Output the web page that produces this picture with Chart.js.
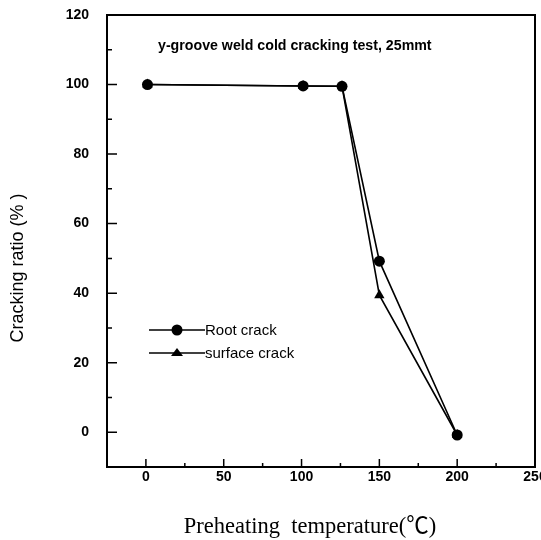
<!DOCTYPE html>
<html>
<head>
<meta charset="utf-8">
<script src="https://cdn.jsdelivr.net/npm/chart.js@4/dist/chart.umd.min.js"></script>
<style>
  html, body { margin: 0; padding: 0; background: #fff; }
  #c { display: block; }
</style>
</head>
<body>
<canvas id="c" width="541" height="540"></canvas>
<script>
/* ── Data ──────────────────────────────────────────────────────── */
const tempRoot    = [1, 101, 126, 150, 200];
const rootCrack   = [100, 99.6, 99.5, 49.2, -0.8];
const tempSurface = [1, 101, 126, 150, 200];
const surfCrack   = [100, 99.6, 99.5, 39.4, -0.8];

const xMajorTicks = [0, 50, 100, 150, 200, 250];
const yMajorTicks = [0, 20, 40, 60, 80, 100, 120];

const seriesNames = ['Root crack', 'surface crack'];
const noteText    = 'y-groove weld cold cracking test, 25mmt';
const xTitle      = 'Preheating  temperature(\u2103)';
const yTitle      = 'Cracking ratio (% )';

function pts(xs, ys) {
  return xs.map(function(x, i) { return { x: x, y: ys[i] }; });
}

// ── Frame, inward ticks, titles, legend ─────────────────────────────
const decor = {
  id: 'decor',
  afterDraw: function(chart) {
    const ctx = chart.ctx;
    const a = chart.chartArea;
    const sx = chart.scales.x, sy = chart.scales.y;
    ctx.save();
    ctx.strokeStyle = '#000';
    ctx.fillStyle = '#000';

    // frame
    ctx.lineWidth = 2;
    ctx.strokeRect(a.left, a.top, a.right - a.left, a.bottom - a.top);

    // ticks (inward)
    ctx.lineWidth = 1.5;
    ctx.beginPath();
    sx.ticks.forEach(function(t) {
      if (t.value <= sx.min || t.value >= sx.max) return;
      const px = sx.getPixelForValue(t.value);
      const len = xMajorTicks.indexOf(t.value) >= 0 ? 8 : 4;
      ctx.moveTo(px, a.bottom);
      ctx.lineTo(px, a.bottom - len);
    });
    sy.ticks.forEach(function(t) {
      if (t.value <= sy.min || t.value >= sy.max) return;
      const py = sy.getPixelForValue(t.value);
      const len = yMajorTicks.indexOf(t.value) >= 0 ? 10 : 5;
      ctx.moveTo(a.left, py);
      ctx.lineTo(a.left + len, py);
    });
    ctx.stroke();

    // note inside the plot
    ctx.font = 'bold 14.2px "Liberation Sans", Arial, sans-serif';
    ctx.textAlign = 'left';
    ctx.textBaseline = 'middle';
    ctx.fillText(noteText, a.left + 51, a.top + 31);

    // y title
    ctx.save();
    ctx.translate(18, 268);
    ctx.rotate(-Math.PI / 2);
    ctx.font = '18px "Liberation Sans", Arial, sans-serif';
    ctx.textAlign = 'center';
    ctx.fillText(yTitle, 0, 0);
    ctx.restore();

    // x title
    ctx.font = '22.5px "Liberation Serif", "Noto Sans CJK KR", serif';
    ctx.textAlign = 'center';
    ctx.fillText(xTitle, 310, 527);

    // legend
    const lx0 = a.left + 42, lx1 = a.left + 98, lmx = a.left + 70;
    const rows = [a.top + 315, a.top + 338];
    ctx.lineWidth = 1.3;
    rows.forEach(function(ly, i) {
      ctx.beginPath();
      ctx.moveTo(lx0, ly);
      ctx.lineTo(lx1, ly);
      ctx.stroke();
      ctx.beginPath();
      if (i === 0) {
        ctx.arc(lmx, ly, 5.5, 0, Math.PI * 2);
      } else {
        ctx.moveTo(lmx, ly - 5);
        ctx.lineTo(lmx + 6, ly + 3);
        ctx.lineTo(lmx - 6, ly + 3);
        ctx.closePath();
      }
      ctx.fill();
      ctx.font = '15px "Liberation Sans", Arial, sans-serif';
      ctx.textAlign = 'left';
      ctx.fillText(seriesNames[i], lx1, ly + 1);
    });

    ctx.restore();
  }
};

const tickFont = { family: '"Liberation Sans", Arial, sans-serif', size: 14, weight: 'bold' };

new Chart(document.getElementById('c'), {
  type: 'scatter',
  data: {
    datasets: [{
      label: seriesNames[0],
      data: pts(tempRoot, rootCrack),
      showLine: true,
      borderColor: '#000',
      backgroundColor: '#000',
      borderWidth: 1.6,
      pointStyle: 'circle',
      pointRadius: 5.5,
      pointBorderWidth: 0
    }, {
      label: seriesNames[1],
      data: pts(tempSurface, surfCrack),
      showLine: true,
      borderColor: '#000',
      backgroundColor: '#000',
      borderWidth: 1.6,
      pointStyle: 'triangle',
      pointRadius: 6,
      pointBorderWidth: 0
    }]
  },
  options: {
    responsive: false,
    animation: false,
    layout: { padding: { top: 15, right: 4, left: 0, bottom: 0 } },
    plugins: { legend: { display: false }, tooltip: { enabled: false } },
    scales: {
      x: {
        type: 'linear',
        min: -25, max: 250,
        grid: { display: false, drawTicks: false },
        border: { display: false },
        ticks: {
          stepSize: 25, autoSkip: false, maxRotation: 0, padding: 2,
          color: '#000', font: tickFont,
          callback: function(v) { return xMajorTicks.indexOf(v) >= 0 ? v : ''; }
        },
        afterFit: function(s) { s.height = 73; s.paddingLeft = 0; s.paddingRight = 0; }
      },
      y: {
        min: -10, max: 120,
        grid: { display: false, drawTicks: false },
        border: { display: false },
        ticks: {
          stepSize: 10, autoSkip: false, padding: 18,
          color: '#000', font: tickFont,
          callback: function(v) { return yMajorTicks.indexOf(v) >= 0 ? v : ''; }
        },
        afterFit: function(s) { s.width = 107; s.paddingTop = 0; s.paddingBottom = 0; }
      }
    }
  },
  plugins: [decor]
});
</script>
</body>
</html>
